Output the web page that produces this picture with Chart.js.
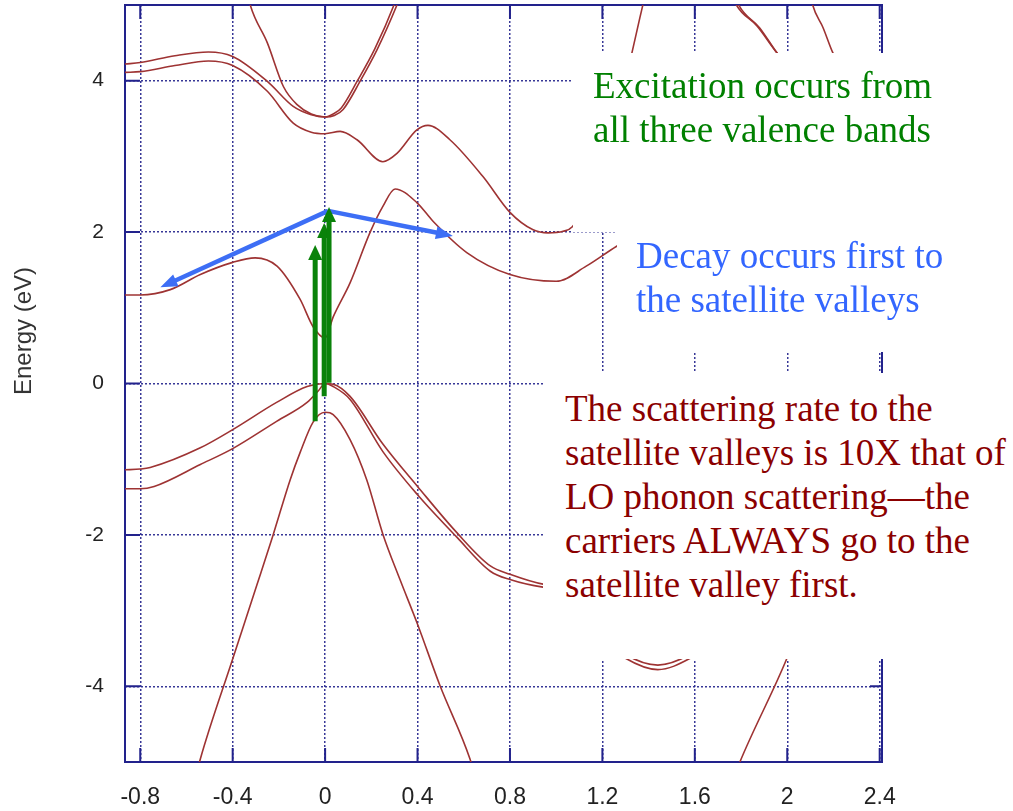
<!DOCTYPE html>
<html>
<head>
<meta charset="utf-8">
<script src="https://cdn.jsdelivr.net/npm/chart.js@4.4.0/dist/chart.umd.min.js"></script>
<style>
html,body{margin:0;padding:0;background:#fff;}
#wrap{position:relative;width:1013px;height:811px;overflow:hidden;background:#fff;}
#c{position:absolute;left:0;top:0;}
.wbox{position:absolute;background:#fff;}
.txt{position:absolute;font-family:"Liberation Serif","Times New Roman",serif;font-size:37px;line-height:44px;white-space:nowrap;}
#ytitle{position:absolute;left:-77px;top:316px;width:200px;height:30px;line-height:30px;text-align:center;
  font-family:"Liberation Sans",Arial,sans-serif;font-size:24px;color:#333;transform:rotate(-90deg);}
</style>
</head>
<body>
<div id="wrap">
<canvas id="c" width="1013" height="811"></canvas>
<div id="ytitle">Energy (eV)</div>
<div class="wbox" style="left:573px;top:53px;width:440px;height:179px"></div>
<div class="wbox" style="left:617px;top:232px;width:396px;height:120px"></div>
<div class="wbox" style="left:543px;top:373px;width:470px;height:286px"></div>
<div class="txt" style="left:593px;top:64px;color:#008000">Excitation occurs from<br>all three valence bands</div>
<div class="txt" style="left:636px;top:234px;color:#3366ff">Decay occurs first to<br>the satellite valleys</div>
<div class="txt" style="left:565px;top:387px;color:#8b0000">The scattering rate to the<br>satellite valleys is 10X that of<br>LO phonon scattering—the<br>carriers ALWAYS go to the<br>satellite valley first.</div>
</div>
<script>
// ---- axis ticks ----
const xTickValues = [-0.8, -0.4, 0, 0.4, 0.8, 1.2, 1.6, 2, 2.4];
const yTickValues = [-4, -2, 0, 2, 4];

// ---- band curves [k, E(eV)] ----
const bandSplitOff = [[-0.56,-5.2],[-0.54,-4.96],[-0.40,-3.64],[-0.295,-2.66],[-0.225,-2.0],[-0.151,-1.27],[-0.108,-0.91],[-0.052,-0.51],[0,-0.38],[0.035,-0.41],[0.108,-0.74],[0.18,-1.27],[0.25,-1.99],[0.324,-2.59],[0.40,-3.18],[0.497,-3.99],[0.627,-4.96],[0.65,-5.2]];
const bandHeavyHole = [[-0.866,-1.14],[-0.8,-1.13],[-0.757,-1.11],[-0.54,-0.85],[-0.4,-0.61],[-0.21,-0.25],[-0.078,-0.04],[0,0],[0.035,-0.01],[0.108,-0.17],[0.25,-0.8],[0.4,-1.36],[0.57,-1.97],[0.715,-2.41],[0.8,-2.52],[0.943,-2.65],[1.0,-2.68],[1.15,-3.2],[1.3,-3.58],[1.44,-3.72],[1.58,-3.58],[1.75,-3.2],[2.0,-2.2],[2.2,-1.0],[2.41,0]];
const bandLightHole = [[-0.866,-1.39],[-0.8,-1.39],[-0.74,-1.36],[-0.54,-1.07],[-0.4,-0.86],[-0.21,-0.5],[-0.078,-0.25],[-0.03,-0.1],[0,0],[0.035,-0.04],[0.108,-0.21],[0.25,-0.9],[0.4,-1.47],[0.57,-2.03],[0.715,-2.48],[0.8,-2.59],[0.943,-2.69],[1.0,-2.72],[1.15,-3.26],[1.3,-3.63],[1.44,-3.78],[1.58,-3.63],[1.75,-3.26],[2.0,-2.3],[2.2,-1.1],[2.41,0]];
const bandSplitOffK = [[1.77,-5.2],[1.795,-5.0],[2.0,-3.62],[2.2,-2.0],[2.41,-0.38]];
const bandCond1 = [[-0.866,1.17],[-0.8,1.17],[-0.67,1.24],[-0.54,1.44],[-0.4,1.60],[-0.303,1.66],[-0.208,1.55],[-0.108,1.11],[-0.052,0.75],[0,0.6],[0.035,0.88],[0.108,1.33],[0.195,2.0],[0.25,2.34],[0.303,2.57],[0.397,2.39],[0.468,2.14],[0.613,1.73],[0.8,1.44],[1.0,1.35],[1.13,1.55],[1.26,1.81],[1.4,2.05]];
const bandCond2 = [[-0.866,4.11],[-0.8,4.12],[-0.65,4.2],[-0.505,4.26],[-0.4,4.2],[-0.25,3.86],[-0.138,3.44],[-0.06,3.32],[0,3.30],[0.065,3.33],[0.138,3.22],[0.25,2.93],[0.311,3.04],[0.397,3.35],[0.445,3.41],[0.54,3.22],[0.684,2.73],[0.8,2.26],[0.9,2.03],[0.965,1.99],[1.03,2.01],[1.07,2.07],[1.15,2.5],[1.25,3.4],[1.328,4.37],[1.362,4.83],[1.375,5.0],[1.39,5.2]];
const bandCond3 = [[-0.866,4.22],[-0.8,4.24],[-0.65,4.33],[-0.505,4.38],[-0.4,4.32],[-0.25,3.99],[-0.138,3.66],[-0.06,3.55],[0,3.52],[0.04,3.54],[0.078,3.62],[0.151,3.99],[0.225,4.41],[0.311,5.0],[0.33,5.15]];
const bandCond4 = [[-0.335,5.15],[-0.324,5.0],[-0.25,4.5],[-0.18,3.92],[-0.12,3.68],[-0.06,3.56],[0,3.52],[0.035,3.56],[0.07,3.64],[0.14,4.0],[0.215,4.42],[0.298,5.0],[0.315,5.15]];
const bandCond5 = [[1.76,5.15],[1.78,5.0],[1.87,4.72],[1.955,4.37],[2.1,3.9],[2.41,3.52]];
const bandCond6 = [[1.772,5.15],[1.79,5.0],[1.88,4.7],[1.962,4.34],[2.1,3.85],[2.41,3.52]];
const bandCond7 = [[2.1,5.15],[2.11,5.0],[2.155,4.7],[2.197,4.37],[2.3,3.8],[2.41,3.3]];

// ---- annotation arrows ----
const exciteX = [-0.043, -0.004, 0.017];
const exciteFrom = [-0.5, -0.17, 0.01];
const exciteTo = [1.83, 2.12, 2.33];
const decayOrigin = [0.013, 2.28];
const decayTargets = [[-0.713, 1.27], [0.553, 1.95]];

const bands = [bandSplitOff, bandHeavyHole, bandLightHole, bandSplitOffK, bandCond1, bandCond2, bandCond3, bandCond4, bandCond5, bandCond6, bandCond7];

const NAVY = '#22228c';
const CURVE = '#9e3333';

function drawArrow(ctx, x0, y0, x1, y1, color, w, headL, headW) {
  const dx = x1 - x0, dy = y1 - y0, len = Math.hypot(dx, dy);
  const ux = dx / len, uy = dy / len;
  const bx = x1 - ux * headL, by = y1 - uy * headL;
  ctx.save();
  ctx.strokeStyle = color; ctx.fillStyle = color; ctx.lineWidth = w; ctx.lineCap = 'butt';
  ctx.beginPath(); ctx.moveTo(x0, y0); ctx.lineTo(bx + ux * 1, by + uy * 1); ctx.stroke();
  ctx.beginPath();
  ctx.moveTo(x1, y1);
  ctx.lineTo(bx - uy * headW / 2, by + ux * headW / 2);
  ctx.lineTo(bx + uy * headW / 2, by - ux * headW / 2);
  ctx.closePath(); ctx.fill();
  ctx.restore();
}

const framePlugin = {
  id: 'frame',
  beforeDatasetsDraw(chart) {
    const {ctx, chartArea: a, scales: {x, y}} = chart;
    ctx.save();
    ctx.strokeStyle = NAVY; ctx.lineWidth = 2;
    ctx.beginPath();
    x.ticks.forEach(t => {
      const px = x.getPixelForValue(t.value);
      ctx.moveTo(px, a.bottom); ctx.lineTo(px, a.bottom - 14);
      ctx.moveTo(px, a.top); ctx.lineTo(px, a.top + 14);
    });
    y.ticks.forEach(t => {
      const py = y.getPixelForValue(t.value);
      ctx.moveTo(a.left, py); ctx.lineTo(a.left + 15, py);
      ctx.moveTo(a.right, py); ctx.lineTo(a.right - 12, py);
    });
    ctx.stroke();
    ctx.strokeRect(a.left, a.top, a.right - a.left, a.bottom - a.top);
    ctx.restore();
  },
  afterDatasetsDraw(chart) {
    const {ctx, scales: {x, y}} = chart;
    const ox = x.getPixelForValue(decayOrigin[0]), oy = y.getPixelForValue(decayOrigin[1]);
    decayTargets.forEach(t => {
      drawArrow(ctx, ox, oy, x.getPixelForValue(t[0]), y.getPixelForValue(t[1]), '#3d6ef5', 4.5, 17, 13);
    });
    exciteX.forEach((kx, i) => {
      const px = x.getPixelForValue(kx);
      drawArrow(ctx, px, y.getPixelForValue(exciteFrom[i]), px, y.getPixelForValue(exciteTo[i]), '#0a820a', 5, 15, 14);
    });
  }
};

new Chart(document.getElementById('c'), {
  type: 'scatter',
  data: {
    datasets: bands.map(b => ({
      data: b.map(p => ({x: p[0], y: p[1]})),
      showLine: true,
      borderColor: CURVE,
      borderWidth: 1.6,
      pointRadius: 0,
      cubicInterpolationMode: 'monotone',
      clip: 0,
      fill: false
    }))
  },
  options: {
    responsive: false,
    animation: false,
    devicePixelRatio: 1,
    events: [],
    layout: {padding: {top: 5, right: 131, left: 0, bottom: 0}},
    plugins: {legend: {display: false}, tooltip: {enabled: false}},
    scales: {
      x: {
        type: 'linear', min: -0.866, max: 2.41,
        afterBuildTicks: s => { s.ticks = xTickValues.map(v => ({value: v})); },
        afterFit: s => { s.height = 49; s.paddingLeft = 0; s.paddingRight = 0; },
        grid: {color: 'rgba(34,34,140,0.9)', lineWidth: 1.5, drawTicks: false},
        border: {display: false, dash: [2, 2]},
        ticks: {autoSkip: false, maxRotation: 0, padding: 22, color: '#222',
          font: {family: 'Liberation Sans', size: 23},
          callback: v => String(v)}
      },
      y: {
        type: 'linear', min: -5, max: 5,
        afterBuildTicks: s => { s.ticks = yTickValues.map(v => ({value: v})); },
        afterFit: s => { s.width = 125; s.paddingTop = 0; s.paddingBottom = 0; },
        grid: {color: 'rgba(34,34,140,0.9)', lineWidth: 1.5, drawTicks: false},
        border: {display: false, dash: [2, 2]},
        ticks: {padding: 21, color: '#222', font: {family: 'Liberation Sans', size: 21},
          callback: v => String(v)}
      }
    }
  },
  plugins: [framePlugin]
});
</script>
</body>
</html>
